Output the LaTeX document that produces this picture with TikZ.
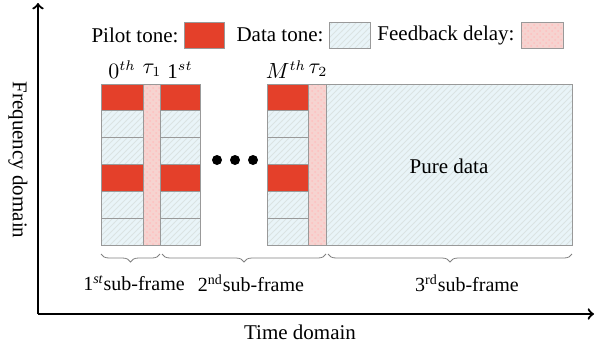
\documentclass[tikz,border=0pt]{standalone}
\usepackage{fontspec}
\setmainfont{Liberation Serif}
\usetikzlibrary{patterns,decorations.pathreplacing}
\definecolor{pilotred}{HTML}{E4402A}
\definecolor{datablue}{HTML}{E9F4F8}
\definecolor{delaypink}{HTML}{F6D3D0}
\tikzset{
    pilot/.style={fill=pilotred, draw=gray!80, line width=0.4pt},
    datatone/.style={preaction={fill=datablue}, pattern=north east lines, pattern color=cyan!12!gray!25, draw=gray!80, line width=0.4pt},
    delay/.style={preaction={fill=delaypink}, pattern=crosshatch dots, pattern color=red!25, draw=gray!80, line width=0.4pt},
    subbrace/.style={decorate, decoration={brace, mirror, amplitude=4pt}, draw=gray, line width=0.4pt},
    lbl/.style={inner sep=0pt, font=\fontsize{10.5}{12}\selectfont},
    sflbl/.style={inner sep=0pt, font=\fontsize{10}{12}\selectfont}
}
\begin{document}
\begin{tikzpicture}[x=0.5pt, y=-0.5pt]
    \useasboundingbox (0,0) rectangle (595,349);

    % axes
    \coordinate (o) at (38,314);
    \coordinate (ytop) at (38,3);
    \coordinate (xend) at (594,314);
    \draw[->, line width=1.1pt] (o) -- (ytop);
    \draw[->, line width=1.1pt] (o) -- (xend);
    \node[lbl, rotate=-90] (freq) at (18,160) {Frequency domain};
    \node[lbl] (time) at (300,332) {Time domain};

    % legend
    \node[lbl] (pilottxt) at (135,35) {Pilot tone:};
    \draw[pilot] (184,22) rectangle (224,48);
    \node[lbl] (datatxt) at (280,35) {Data tone:};
    \draw[datatone] (329,22) rectangle (370,48);
    \node[lbl] (delaytxt) at (446,35) {Feedback delay:};
    \draw[delay] (521,22) rectangle (563,48);

    % pilot/data columns
    \foreach \xa/\xb in {101/143, 160/200, 267/308} {
        \foreach \r in {0,...,5} {
            \pgfmathsetmacro{\ya}{84+26.83*\r}
            \pgfmathsetmacro{\yb}{84+26.83*(\r+1)}
            \ifnum\r=0
                \draw[pilot] (\xa,\ya) rectangle (\xb,\yb);
            \else\ifnum\r=3
                \draw[pilot] (\xa,\ya) rectangle (\xb,\yb);
            \else
                \draw[datatone] (\xa,\ya) rectangle (\xb,\yb);
            \fi\fi
        }
    }

    % feedback delays
    \draw[delay] (143,84) rectangle (160,245);
    \draw[delay] (308,84) rectangle (326,245);

    % pure data
    \draw[datatone] (326,84) rectangle (572,245);
    \node[lbl] (pure) at (449,166) {Pure data};

    % dots
    \foreach \x in {217,235,253}
        \fill (\x,160) circle (5);

    % column labels
    \node[lbl] (zeroth) at (122,70) {$0^{th}$};
    \node[lbl] (tauone) at (152,70) {$\tau_1$};
    \node[lbl] (first) at (180,70) {1$^{st}$};
    \node[lbl] (mth) at (286,70) {$M^{th}$};
    \node[lbl] (tautwo) at (318,70) {$\tau_2$};

    % sub-frames
    \coordinate (b1a) at (101,254);
    \coordinate (b1b) at (160,254);
    \coordinate (b2a) at (162,254);
    \coordinate (b2b) at (326,254);
    \coordinate (b3a) at (328,254);
    \coordinate (b3b) at (572,254);
    \draw[subbrace] (b1a) -- (b1b);
    \draw[subbrace] (b2a) -- (b2b);
    \draw[subbrace] (b3a) -- (b3b);
    \node[sflbl] (sf1) at (134,283) {1\textsuperscript{\itshape st}sub-frame};
    \node[sflbl] (sf2) at (251,283) {2\textsuperscript{nd}sub-frame};
    \node[sflbl] (sf3) at (467,283) {3\textsuperscript{rd}sub-frame};
\end{tikzpicture}
\end{document}
